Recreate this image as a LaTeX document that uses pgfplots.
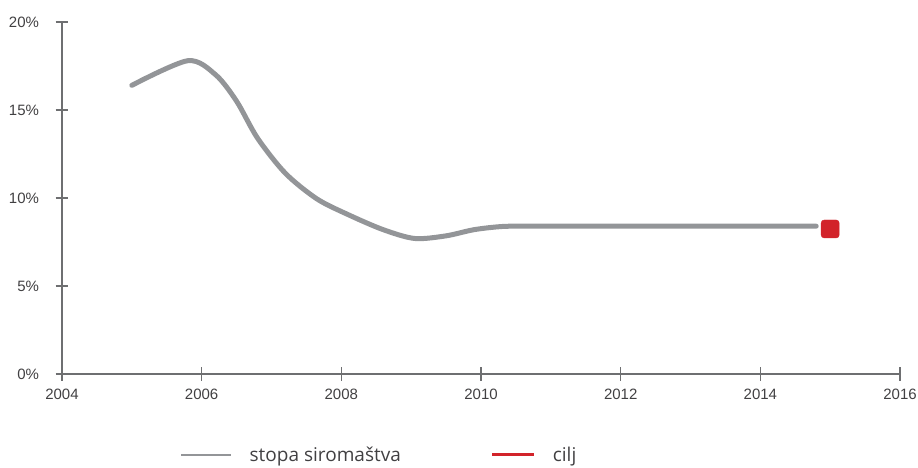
\documentclass[border=0pt]{standalone}
\usepackage{pgfplots}
\pgfplotsset{compat=1.18}
\usepackage{fontspec}
\setmainfont{Liberation Sans}
\newfontfamily\legfont{Open Sans}
\definecolor{lgray}{RGB}{147,149,152}
\definecolor{axgray}{RGB}{110,111,113}
\definecolor{txt}{RGB}{65,64,66}
\definecolor{cred}{RGB}{210,35,42}
\pgfdeclareplotmark{rsquare}{%
 \pgfsetcornersarced{\pgfpoint{3pt}{3pt}}%
 \pgfpathmoveto{\pgfpoint{0pt}{-\pgfplotmarksize}}%
 \pgfpathlineto{\pgfpoint{\pgfplotmarksize}{-\pgfplotmarksize}}%
 \pgfpathlineto{\pgfpoint{\pgfplotmarksize}{\pgfplotmarksize}}%
 \pgfpathlineto{\pgfpoint{-\pgfplotmarksize}{\pgfplotmarksize}}%
 \pgfpathlineto{\pgfpoint{-\pgfplotmarksize}{-\pgfplotmarksize}}%
 \pgfpathclose
 \pgfusepath{fill,stroke}}
\begin{document}
\begin{tikzpicture}
\useasboundingbox (-62pt,-94pt) rectangle (856pt,374pt);
\begin{axis}[
  at={(0pt,0pt)}, anchor=south west,
  scale only axis, width=838pt, height=352pt,
  xmin=2004, xmax=2016, ymin=0, ymax=20,
  axis lines=left,
  axis line style={-, draw=axgray, line width=1.2pt},
  xtick={2004,2006,...,2016},
  ytick={0,5,...,20},
  tick align=center,
  major tick length=13pt,
  tick style={draw=axgray, line width=1.1pt},
  /pgf/number format/assume math mode=true,
  xticklabel={\pgfmathprintnumber[1000 sep={}]{\tick}},
  yticklabel={\pgfmathprintnumber{\tick}\%},
  ticklabel style={font=\fontsize{15}{17}\selectfont, text=txt},
  yticklabel style={xshift=-13pt},
  xticklabel style={yshift=-5pt},
  clip=false,
  legend style={at={(0.141,-0.23)}, anchor=west, draw=none, fill=none,
    inner sep=0pt, outer sep=0pt,
    font=\legfont\fontsize{19}{22}\selectfont, text=txt,
    nodes={inner sep=0pt},
    /tikz/every odd column/.style={column sep=17pt},
    /tikz/every even column/.style={column sep=90pt}},
  legend columns=2,
]
\addplot[forget plot, draw=lgray, line width=5pt, line cap=round, smooth, tension=0.5] coordinates {
 (2005,16.4) (2005.8,17.8) (2006.2,17.0) (2006.5,15.5) (2006.8,13.4)
 (2007.2,11.4) (2007.65,9.95) (2008.1,9.05) (2008.6,8.2) (2009.05,7.7)
 (2009.5,7.85) (2009.9,8.2) (2010.3,8.38) (2010.7,8.4) (2011.5,8.4) (2014.8,8.4)
};
\addplot[forget plot, only marks, mark=rsquare, mark size=9pt, mark options={fill=cred, draw=cred}] coordinates {(2015,8.24)};
\addlegendimage{legend image code/.code={\draw[lgray, line width=2.5pt] (0pt,0pt) -- (50pt,0pt);}}
\addlegendentry{stopa siromaštva}
\addlegendimage{legend image code/.code={\draw[cred, line width=3pt] (0pt,0pt) -- (42pt,0pt);}}
\addlegendentry{cilj}
\end{axis}
\end{tikzpicture}
\end{document}
